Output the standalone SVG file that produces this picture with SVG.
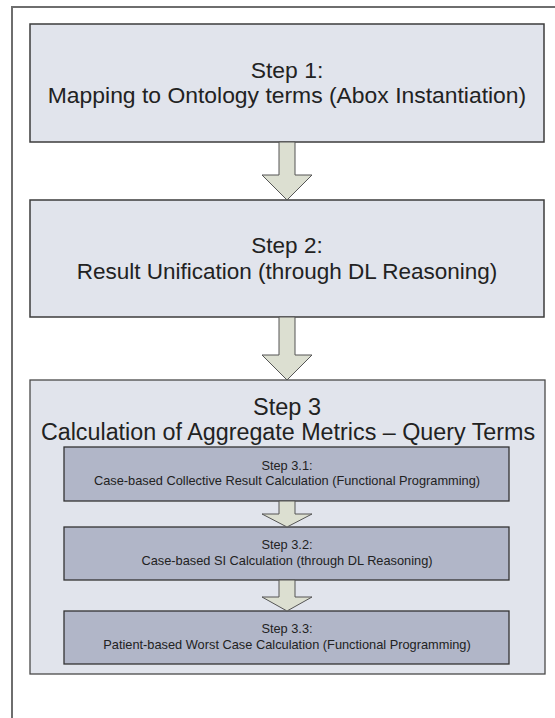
<svg xmlns="http://www.w3.org/2000/svg" width="555" height="718" viewBox="0 0 555 718">
<style>
.frame{fill:none;stroke:#6e6e6e;stroke-width:2}
.box{fill:#e1e4ec;stroke:#3c3c3c;stroke-width:1.5}
.outer3{fill:#e1e4ec;stroke:#4a4a4a;stroke-width:1.3}
.sub{fill:#b1b6c8;stroke:#333;stroke-width:1.3}
.arrow{fill:#dcdfd1;stroke:#555;stroke-width:1}
.big{font-family:"Liberation Sans",Arial,sans-serif;font-size:22.9px;fill:#222;text-anchor:middle}
.small{font-family:"Liberation Sans",Arial,sans-serif;font-size:12.8px;fill:#222;text-anchor:middle}
</style>
<rect width="555" height="718" fill="#fff"/>
<path class="frame" d="M12,718 V7 H556"/>
<g id="step1">
<rect class="box" x="30" y="24" width="514" height="118"/>
<text class="big" x="287" y="78">Step 1:</text>
<text class="big" x="287" y="103">Mapping to Ontology terms (Abox Instantiation)</text>
</g>
<g id="step2">
<rect class="box" x="30" y="200" width="514" height="117"/>
<text class="big" x="287" y="253" style="font-size:22.5px">Step 2:</text>
<text class="big" x="287" y="279" style="font-size:22.5px">Result Unification (through DL Reasoning)</text>
</g>
<g id="step3">
<rect class="outer3" x="30" y="380" width="515" height="294"/>
<text class="big" x="287" y="415" style="font-size:23.5px">Step 3</text>
<text class="big" x="288" y="440" style="font-size:23.3px">Calculation of Aggregate Metrics – Query Terms</text>
</g>
<g id="step3_1">
<rect class="sub" x="64" y="447" width="445" height="54"/>
<text class="small" x="287" y="470">Step 3.1:</text>
<text class="small" x="287" y="485">Case-based Collective Result Calculation (Functional Programming)</text>
</g>
<g id="step3_2">
<rect class="sub" x="64" y="527" width="445" height="53"/>
<text class="small" x="287" y="549">Step 3.2:</text>
<text class="small" x="287" y="565">Case-based SI Calculation (through DL Reasoning)</text>
</g>
<g id="step3_3">
<rect class="sub" x="64" y="611" width="445" height="53"/>
<text class="small" x="287" y="633">Step 3.3:</text>
<text class="small" x="287" y="649">Patient-based Worst Case Calculation (Functional Programming)</text>
</g>
<g id="connectors">
<path class="arrow" d="M279,142 V175 H262 L287,200 L312,175 H295 V142 Z"/>
<path class="arrow" d="M279,317 V355 H262 L287,380 L312,355 H295 V317 Z"/>
<path class="arrow" d="M279,501 V514 H262 L287,527 L312,514 H295 V501 Z"/>
<path class="arrow" d="M279,580 V597 H262 L287,611 L312,597 H295 V580 Z"/>
</g>
</svg>
